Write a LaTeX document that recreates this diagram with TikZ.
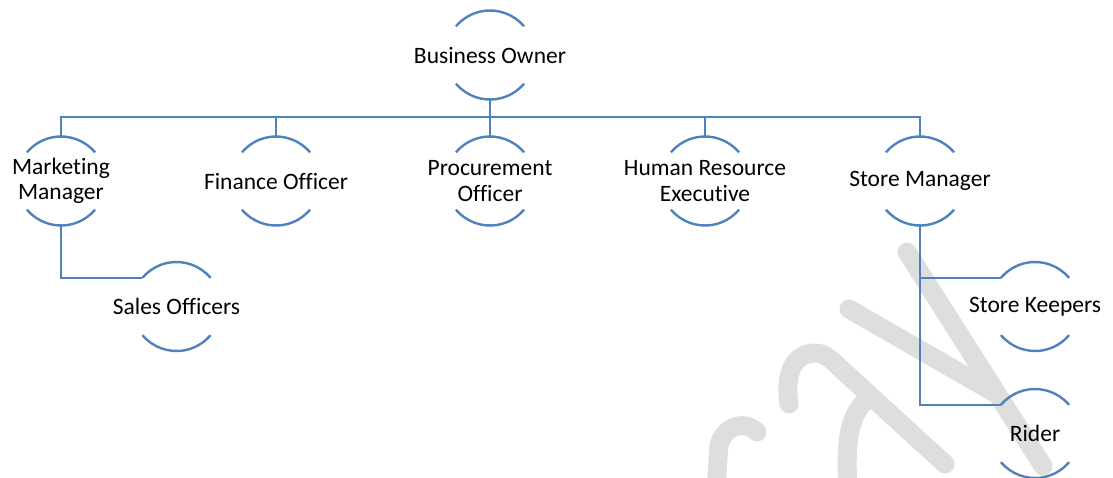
\documentclass[tikz,border=0pt]{standalone}
\usepackage{fontspec}
\setmainfont{Carlito}[Ligatures=NoCommon]
\usepackage{tikz}
\definecolor{orgblue}{RGB}{79,129,189}
\definecolor{wmgray}{RGB}{222,222,222}
\tikzset{
    role/.style={align=center, inner sep=0pt, font=\fontsize{23.5}{25.5}\selectfont},
    ring/.style={draw=orgblue, line width=2.4pt},
    link/.style={draw=orgblue, line width=2.4pt},
    wmstroke/.style={draw=wmgray, line width=19pt, line cap=round, line join=round}
}
\newcommand{\rings}[1]{%
    \draw[ring] ([shift={(40:44.5)}]#1.center) arc[start angle=40, end angle=140, radius=44.5];
    \draw[ring] ([shift={(220:44.5)}]#1.center) arc[start angle=220, end angle=320, radius=44.5];
}

\begin{document}
\begin{tikzpicture}[x=1pt, y=1pt]
            \useasboundingbox (0,0) rectangle (1113,-477);

            %Watermark
            \begin{scope}
                \clip (0,0) rectangle (1113,-477);
                \draw[wmstroke] (907,-252) -- (1043,-466);
                \draw[wmstroke] (849,-309) -- (995,-393);
                \draw[wmstroke] (789,-404) .. controls (784,-372) and (795,-353) .. (815,-353) .. controls (825,-353) and (832,-360) .. (840,-368) -- (945,-464);
                \draw[wmstroke] (868,-398) .. controls (850,-415) and (845,-435) .. (848,-490);
                \draw[wmstroke] (757,-432) .. controls (745,-420) and (725,-425) .. (719,-445) -- (716,-490);
            \end{scope}

            %Nodes
            \node[role] at (490,-55) (bo) {Business Owner};
            \node[role] at (61,-181) (mm) {Marketing\\Manager};
            \node[role] at (276,-181) (fo) {Finance Officer};
            \node[role] at (490,-181) (po) {Procurement\\Officer};
            \node[role] at (705,-181) (hr) {Human Resource\\Executive};
            \node[role] at (920,-181) (sm) {Store Manager};
            \node[role] at (176.5,-306.5) (so) {Sales Officers};
            \node[role] at (1035,-306.5) (sk) {Store Keepers};
            \node[role] at (1035,-433.5) (rd) {Rider};

            %Rings
            \rings{bo}
            \rings{mm}
            \rings{fo}
            \rings{po}
            \rings{hr}
            \rings{sm}
            \rings{so}
            \rings{sk}
            \rings{rd}

            %Lines
            \draw[link] ([yshift=44.5]mm.center) -- ++(0,19.5) -| ([yshift=-44.5]bo.center);
            \draw[link] ([yshift=44.5]fo.center) -- ++(0,19.5) -| ([yshift=-44.5]bo.center);
            \draw[link] ([yshift=44.5]po.center) -- ([yshift=-44.5]bo.center);
            \draw[link] ([yshift=44.5]hr.center) -- ++(0,19.5) -| ([yshift=-44.5]bo.center);
            \draw[link] ([yshift=44.5]sm.center) -- ++(0,19.5) -| ([yshift=-44.5]bo.center);
            \draw[link] ([yshift=-44.5]mm.center) |- ([shift={(140:44.5)}]so.center);
            \draw[link] ([yshift=-44.5]sm.center) |- ([shift={(140:44.5)}]sk.center);
            \draw[link] ([yshift=-44.5]sm.center) |- ([shift={(140:44.5)}]rd.center);
        \end{tikzpicture}
\end{document}
